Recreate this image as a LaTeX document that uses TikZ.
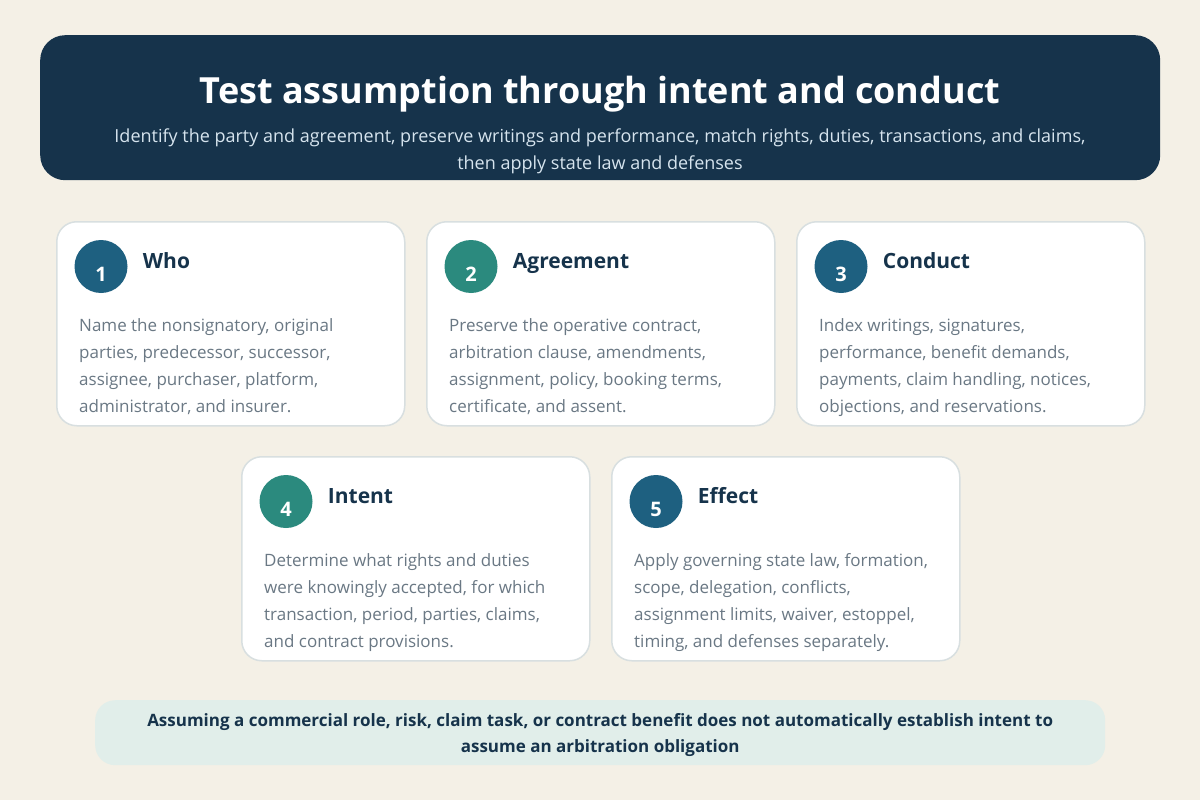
\documentclass[tikz,border=0pt]{standalone}
\usepackage{fontspec}
\setmainfont{Open Sans}
\usetikzlibrary{positioning}

\definecolor{paper}{HTML}{F4F0E6}
\definecolor{navy}{HTML}{16334B}
\definecolor{subtext}{HTML}{D6E4EE}
\definecolor{cardline}{HTML}{D8DFE0}
\definecolor{stepblue}{HTML}{1E6080}
\definecolor{stepteal}{HTML}{2B8A7E}
\definecolor{bodytext}{HTML}{6A7884}
\definecolor{notefill}{HTML}{E1EEEA}

\begin{document}
\begin{tikzpicture}[x=1pt, y=-1pt,
  card/.style={draw=cardline, line width=1.5pt, fill=white, rounded corners=20pt,
    minimum width=348pt, minimum height=204pt, anchor=north west, inner sep=0pt},
  num/.style={circle, fill=#1, minimum size=53pt, inner sep=0pt, text=white,
    font=\fontsize{20}{24}\selectfont\bfseries},
  cardtitle/.style={anchor=base west, inner sep=0pt, text=navy,
    font=\fontsize{21}{25}\selectfont\bfseries},
  cardbody/.style={anchor=north west, inner sep=0pt, text=bodytext, align=left,
    font=\fontsize{17}{27}\selectfont}]

  % page and header
  \fill[paper] (0,0) rectangle (1200,800);
  \useasboundingbox (0,0) rectangle (1200,800);
  \node[fill=navy, rounded corners=25pt, minimum width=1120pt, minimum height=145pt,
    anchor=north west, inner sep=0pt] (head) at (40,35) {};
  \node[text=white, font=\fontsize{36}{40}\selectfont\bfseries, anchor=base]
    (headtitle) at (600,103) {Test assumption through intent and conduct};
  \node[text=subtext, font=\fontsize{18}{27}\selectfont, align=center, anchor=north]
    (headsub) at (600,125) {Identify the party and agreement, preserve writings and performance, match rights, duties, transactions, and claims,\\
    then apply state law and defenses};

  % first row
  \node[card] (c1) at (56,221) {};
  \node[num=stepblue] (n1) at (101,266.5) {\raisebox{-14.5pt}[0pt][0pt]{1}};
  \node[cardtitle, right=15pt of n1, anchor=base west, yshift=-1.5pt] (t1) {Who};
  \node[cardbody] (b1) at (79,318) {Name the nonsignatory, original\\
    parties, predecessor, successor,\\ assignee, purchaser, platform,\\ administrator, and insurer.};

  \node[card] (c2) at (426,221) {};
  \node[num=stepteal] (n2) at (471,266.5) {\raisebox{-14.5pt}[0pt][0pt]{2}};
  \node[cardtitle, right=15pt of n2, anchor=base west, yshift=-1.5pt] (t2) {Agreement};
  \node[cardbody] (b2) at (449,318) {Preserve the operative contract,\\
    arbitration clause, amendments,\\ assignment, policy, booking terms,\\ certificate, and assent.};

  \node[card] (c3) at (796,221) {};
  \node[num=stepblue] (n3) at (841,266.5) {\raisebox{-14.5pt}[0pt][0pt]{3}};
  \node[cardtitle, right=15pt of n3, anchor=base west, yshift=-1.5pt] (t3) {Conduct};
  \node[cardbody] (b3) at (819,318) {Index writings, signatures,\\
    performance, benefit demands,\\ payments, claim handling, notices,\\ objections, and reservations.};

  % second row
  \node[card] (c4) at (241,456) {};
  \node[num=stepteal] (n4) at (286,501.5) {\raisebox{-14.5pt}[0pt][0pt]{4}};
  \node[cardtitle, right=15pt of n4, anchor=base west, yshift=-1.5pt] (t4) {Intent};
  \node[cardbody] (b4) at (264,553) {Determine what rights and duties\\
    were knowingly accepted, for which\\ transaction, period, parties, claims,\\ and contract provisions.};

  \node[card] (c5) at (611,456) {};
  \node[num=stepblue] (n5) at (656,501.5) {\raisebox{-14.5pt}[0pt][0pt]{5}};
  \node[cardtitle, right=15pt of n5, anchor=base west, yshift=-1.5pt] (t5) {Effect};
  \node[cardbody] (b5) at (634,553) {Apply governing state law, formation,\\
    scope, delegation, conflicts,\\ assignment limits, waiver, estoppel,\\ timing, and defenses separately.};

  % bottom note
  \node[fill=notefill, rounded corners=20pt, minimum width=1010pt, minimum height=65pt,
    anchor=north west, inner sep=0pt] (note) at (95,700) {};
  \node[text=navy, align=center, font=\fontsize{17}{26}\selectfont\bfseries]
    (notetext) at ([yshift=-2pt]note.center) {Assuming a commercial role, risk, claim task, or contract benefit does not automatically establish intent to\\
    assume an arbitration obligation};
\end{tikzpicture}
\end{document}
